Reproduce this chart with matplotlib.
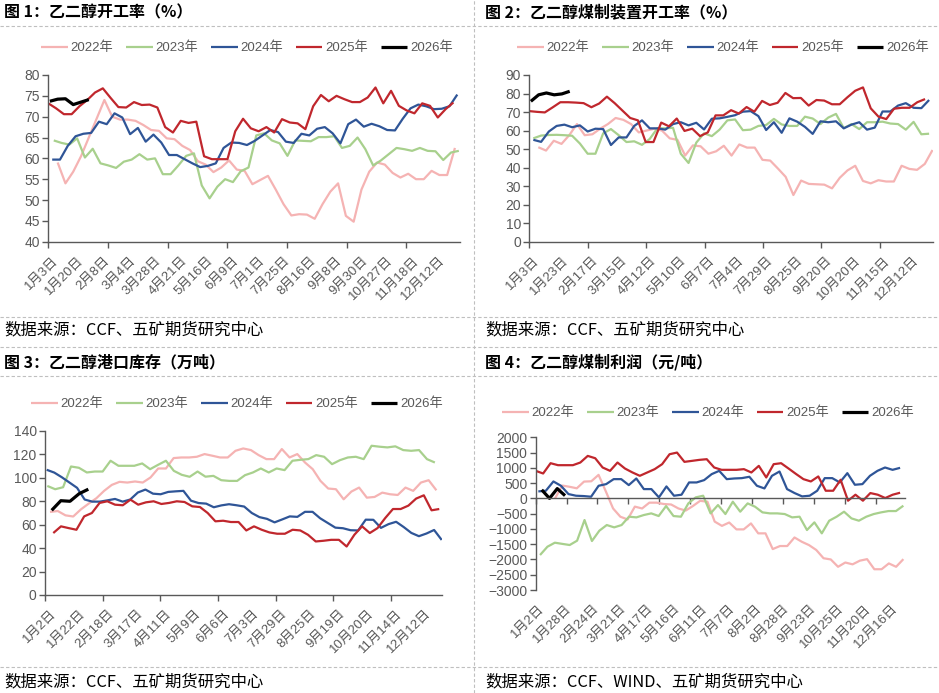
import matplotlib
matplotlib.use('Agg')
import matplotlib.pyplot as plt
from matplotlib.lines import Line2D
import numpy as np

plt.rcParams['font.family'] = ['Liberation Sans', 'Noto Sans CJK SC']

years = ['2022年', '2023年', '2024年', '2025年', '2026年']
colors = ['#F5B3B3', '#A8D08D', '#2F5597', '#C0272D', '#000000']
widths = [1.6, 1.6, 1.6, 1.6, 2.3]

# ---------------- data ----------------
p1_labels = ['1月3日', '1月20日', '2月8日', '3月4日', '3月28日', '4月21日', '5月16日', '6月9日',
             '7月1日', '7月25日', '8月16日', '9月8日', '9月30日', '10月27日', '11月18日', '12月12日']
p1_2022 = [59, 54, 56.8, 60.5, 65, 69.5, 74, 70, 69.3, 69.3, 69, 68, 66.8, 66.6, 64.8, 64.6, 63, 62,
           59.3, 58.5, 56.7, 57.8, 59.5, 57.3, 57, 53.8, 54.8, 55.8, 52.5, 49, 46.3, 46.6, 46.5, 45.5,
           49, 52, 54, 46.2, 44.8, 52.5, 56.8, 59, 58.5, 56.5, 55.4, 56.3, 55, 55, 57, 56, 56, 62.5]
p1_2023 = [64.3, 63.7, 63.3, 64.8, 60.2, 62.3, 58.8, 58.3, 57.7, 59.2, 59.7, 61, 59.7, 60, 56.2, 56.2,
           58.3, 60.6, 61.2, 53.5, 50.4, 53.2, 55, 54.3, 56.9, 57.8, 65.5, 66, 64.3, 63.6, 60.6, 64.3,
           64.2, 64.1, 65.1, 65.1, 65.3, 62.5, 63, 65, 62.2, 58.3, 59.5, 61, 62.5, 62.2, 61.8, 62.5,
           61.8, 61.7, 59.6, 61.4, 61.8]
p1_2024 = [59.7, 59.7, 63, 65.3, 65.9, 66.1, 68.8, 68.2, 70.8, 69.8, 65.8, 67.3, 64, 65.7, 63.8, 60.8,
           60.8, 59.8, 58.8, 57.9, 58.2, 58.8, 62.5, 63.8, 63.7, 63.2, 64.2, 65.5, 66.8, 66.3, 64, 63.7,
           65.9, 65.5, 67.1, 67.5, 66, 63.6, 68.2, 69.3, 67.6, 68.3, 67.7, 66.8, 66.7, 69.5, 72, 72.9,
           72.5, 71.8, 71.9, 72.5, 75.3]
p1_2025 = [73.2, 72, 70.6, 70.6, 72.5, 74, 75.8, 76.8, 74.5, 72.3, 72.2, 73.5, 72.8, 72.9, 72.2, 67.5,
           66.2, 69, 68.5, 68.8, 60.5, 59.8, 59.8, 59.8, 66.5, 69.5, 67.2, 66.5, 67.5, 66.2, 69.4, 68.6,
           68.4, 67, 72.5, 75.2, 73.7, 75, 74.2, 73.5, 73.5, 74.6, 77, 73.2, 76.2, 72.6, 71.5, 70.8,
           73.2, 72.6, 69.8, 71.8, 73.4]
p1_2026 = [73.7, 74.2, 74.3, 72.9, 73.5, 74.1]

p2_labels = ['1月3日', '1月23日', '2月17日', '3月15日', '4月12日', '5月10日', '6月7日', '7月4日',
             '7月29日', '8月25日', '9月20日', '10月20日', '11月15日', '12月12日']
p2_2022 = [51, 49.2, 54.5, 52.8, 57.5, 63.5, 57.5, 58, 61, 63.5, 66.8, 65.8, 63.5, 59, 60, 61, 60,
           55.8, 55, 46.5, 52, 51.5, 47.5, 48.8, 51.8, 46.5, 52.5, 50.8, 50.8, 44.2, 43.8, 39.5, 35,
           25.2, 33, 31.2, 31, 30.8, 28.8, 34.5, 38.5, 41, 32.8, 31.5, 33.2, 32.5, 32.5, 41, 39.3,
           38.8, 42, 49.5]
p2_2023 = [55.8, 57.3, 57.6, 57.7, 57.5, 57.2, 53, 47.5, 47.5, 58.5, 60.8, 57.5, 53.8, 54.2, 52.3,
           55.5, 61.3, 61.2, 61.5, 47.5, 42.5, 53.5, 58.5, 57, 60.5, 65.5, 66, 60.2, 60.5, 62.5, 63,
           66.3, 63.3, 62.5, 62.5, 67.5, 66.5, 63.5, 67, 69, 61.3, 63.5, 60.8, 64.5, 64.5, 64.8, 63.8,
           63.5, 60.5, 64.7, 58, 58.3]
p2_2024 = [55, 53.9, 59.5, 62.5, 63.2, 61.8, 62.8, 59.5, 61, 60.8, 52.2, 56.3, 56.3, 62.5, 65.5, 61.2,
           61.2, 60.5, 63.5, 64.5, 62.8, 64.2, 60.6, 66.4, 66.6, 67.4, 68.3, 70.2, 70.5, 67.8, 60.3,
           64.5, 58.8, 66.6, 64.8, 62, 58.2, 65, 64.5, 65, 61.2, 63.2, 64.5, 60.5, 61.6, 70.3, 70.3,
           73.5, 74.8, 72.3, 72.1, 76.5]
p2_2025 = [70.5, 70.1, 69.8, 72.5, 75.3, 75.3, 75.1, 74.8, 72.6, 74.6, 78.3, 74.8, 70.8, 66.8, 65.5,
           53.8, 53.8, 64.3, 62.3, 66.5, 59.8, 61, 57, 59, 68.2, 68.2, 71, 69.2, 72.7, 70.2, 76, 73.8,
           75, 80.3, 77.5, 77.6, 73.5, 76.5, 76.2, 74.2, 74.2, 78, 81.5, 83.3, 72, 67.5, 66.2, 71.8,
           72.3, 72.3, 75.3, 77]
p2_2026 = [75.8, 79.3, 80.3, 79.3, 79.8, 81.2]

p3_labels = ['1月2日', '1月22日', '2月18日', '3月17日', '4月11日', '5月9日', '6月6日', '7月3日',
             '7月29日', '8月25日', '9月19日', '10月20日', '11月14日', '12月12日']
p3_2022 = [70.9, 71.7, 68, 67, 73.1, 78, 82.6, 88.9, 94, 96.6, 96, 96.9, 96, 100.3, 108, 108, 116.9,
           117.4, 117.4, 118, 120.3, 118.9, 117.4, 117.4, 123.1, 125.1, 123.7, 119.4, 116, 116, 124.6,
           117.4, 120.3, 113.1, 107.4, 97.4, 90.9, 90.3, 81.7, 88.3, 91.7, 83.1, 83.7, 87.4, 86, 85.4,
           91.7, 88.9, 96, 98, 89.4]
p3_2023 = [93.1, 90.3, 92, 109.7, 108.6, 104.6, 105.4, 105.4, 114.6, 110.3, 110.3, 110.3, 112.3, 107.4,
           111.1, 114.6, 106, 102.6, 100.9, 105.4, 101, 101.7, 98, 97.4, 97.4, 102.3, 104.6, 108, 104.6,
           108, 106.6, 114.6, 115.4, 116, 119.4, 118, 111.7, 115.1, 117.4, 118, 116, 127.4, 126.6, 126,
           126.9, 123.7, 123.1, 123.7, 116, 113.1]
p3_2024 = [106.9, 104.5, 100.5, 96, 91.5, 81.5, 79.7, 79.7, 80.8, 82, 79.7, 81.5, 87.5, 90, 86.5, 86,
           88, 88.5, 88.9, 80.5, 78.5, 78, 74.9, 76.5, 77.5, 76.6, 75.5, 70, 66.5, 65, 62, 64.5, 67.1,
           66.7, 71, 71, 65.5, 61.5, 57.5, 57, 55.3, 55.1, 64.3, 64.2, 57.3, 60.5, 62.5, 58, 53, 50.2,
           52.5, 55.5, 47]
p3_2025 = [52.9, 58.6, 57.1, 55.7, 67.1, 70, 78.6, 80, 77.1, 76.6, 81.4, 77.1, 79.1, 80, 77.7, 78.6, 80,
           79.4, 75.7, 75.1, 70, 62.9, 63.4, 62.3, 62.3, 55.1, 58.6, 55.7, 53.4, 52.3, 52.3, 55.7, 55.1,
           51.4, 45.7, 46.3, 47.1, 47.1, 41.4, 51.4, 58.6, 52.9, 57.1, 65.7, 73.4, 73.4, 76.3, 82.3,
           85.1, 72.3, 73.4]
p3_2026 = [72.3, 80.5, 80, 86.5, 90.3]

p4_labels = ['1月2日', '1月28日', '2月24日', '3月21日', '4月17日', '5月16日', '6月11日', '7月7日',
             '8月2日', '8月28日', '9月23日', '10月25日', '11月20日', '12月16日']
p4_2022 = [0, 420, 380, 330, 550, 560, 770, 230, -330, -600, -690, -270, -330, -140, -140, -185, -200,
           -330, -400, -250, -80, -110, -760, -900, -790, -1015, -1015, -820, -1145, -1145, -1660,
           -1560, -1560, -1280, -1420, -1530, -1690, -1960, -2000, -2240, -2100, -2160, -2040, -1990,
           -2320, -2320, -2130, -2240, -1990]
p4_2023 = [-1855, -1582, -1451, -1490, -1527, -1385, -709, -1396, -1058, -873, -949, -873, -600, -622,
           -545, -491, -578, -251, -578, -600, -164, 33, 87, -491, -218, -513, -109, -436, -164, -273,
           -458, -491, -491, -513, -622, -600, -1036, -785, -1145, -731, -600, -436, -655, -731, -600,
           -513, -458, -415, -415, -240]
p4_2024 = [228, 250, 554, 413, 141, 87, 76, 54, 413, 467, 630, 630, 435, 652, 304, 304, 33, 391, 87, 120,
           522, 522, 598, 794, 902, 630, 652, 663, 707, 413, 326, 739, 880, 304, 174, 65, 87, 250, 663,
           663, 522, 826, 446, 467, 739, 902, 1011, 935, 1000]
p4_2025 = [902, 815, 1152, 1087, 1087, 1087, 1174, 1391, 1315, 1011, 902, 1174, 978, 850, 739, 848, 957,
           1120, 1446, 1500, 1196, 1228, 1261, 1283, 1011, 935, 935, 935, 957, 848, 1065, 685, 1120,
           1152, 978, 800, 630, 554, 718, 250, 250, 609, -76, 120, -76, 174, 120, 11, 120, 185]
p4_2026 = [280, 0, 320, 90]

titles = ['图 1：乙二醇开工率（%）', '图 2：乙二醇煤制装置开工率（%）',
          '图 3：乙二醇港口库存（万吨）', '图 4：乙二醇煤制利润（元/吨）']
sources = ['数据来源：CCF、五矿期货研究中心', '数据来源：CCF、五矿期货研究中心',
           '数据来源：CCF、五矿期货研究中心', '数据来源：CCF、WIND、五矿期货研究中心']

# ---------------- layout ----------------
FW, FH = 939, 693
fig = plt.figure(figsize=(FW / 100, FH / 100), dpi=100)
GREY = '#595959'
AX = '#595959'


def fxy(x, y):
    return x / FW, 1 - y / FH


def panel(rect, series, spans, W, ylim, ystep, tick_step, lab0, labstep, labels, legend_c,
          zero_spine=False):
    l, t, r, b = rect
    ax = fig.add_axes([l / FW, 1 - b / FH, (r - l) / FW, (b - t) / FH])
    handles = []
    for vals, (s, e), c, lw, name in zip(series, spans, colors, widths, years):
        x = np.linspace(s, e, len(vals))
        h, = ax.plot(x, vals, color=c, lw=lw, solid_joinstyle='round', solid_capstyle='butt')
        handles.append(h)
    ax.set_xlim(0, W)
    ax.set_ylim(*ylim)
    ax.set_yticks(np.arange(ylim[0], ylim[1] + ystep / 2, ystep))
    for s in ['top', 'right']:
        ax.spines[s].set_visible(False)
    for s in ['left', 'bottom']:
        ax.spines[s].set_color(AX)
        ax.spines[s].set_linewidth(1.0)
    if zero_spine:
        ax.spines['bottom'].set_position(('data', 0))
    ax.set_xticks(np.arange(0, W - 1, tick_step))
    ax.tick_params(axis='x', length=4, width=1, color=AX, labelbottom=False, direction='out')
    ax.tick_params(axis='y', length=4, width=1, color=AX, labelsize=10, labelcolor=GREY, pad=2)
    sec = ax.secondary_xaxis('bottom')
    sec.spines['bottom'].set_visible(False)
    pos = lab0 + labstep * np.arange(len(labels))
    sec.set_xticks(pos, labels, rotation=45, ha='right', va='top', rotation_mode='anchor')
    sec.tick_params(length=0, pad=9, labelsize=9.5, labelcolor=GREY)
    ax.legend(handles, years, loc='center', bbox_to_anchor=fxy(*legend_c),
              bbox_transform=fig.transFigure, ncol=5, frameon=False, handlelength=2.0,
              handletextpad=0.2, columnspacing=1.0, fontsize=9.5, labelcolor=GREY,
              borderaxespad=0)
    return ax


panel((48.3, 75, 460, 241.7), [p1_2022, p1_2023, p1_2024, p1_2025, p1_2026],
      [(1.2, 52.2), (0.7, 52.7), (0.5, 52.5), (0, 52), (0.2, 5.2)],
      52.85, (40, 80), 5, 7.66, 0.44, 3.31, p1_labels, (247, 48))
panel((529.3, 75, 933.3, 241.7), [p2_2022, p2_2023, p2_2024, p2_2025, p2_2026],
      [(1.16, 51.9), (0.52, 51.46), (0.52, 51.46), (0, 50.94), (0.2, 5.2)],
      52.0, (0, 90), 10, 7.52, 0.51, 3.76, p2_labels, (723, 48))
panel((45, 431, 441.7, 595), [p3_2022, p3_2023, p3_2024, p3_2025, p3_2026],
      [(0.66, 51.5), (0.3, 51.3), (0.22, 52.2), (1.09, 51.88), (0.88, 5.7)],
      52.2, (0, 140), 20, 7.59, 0.66, 3.795, p3_labels, (237, 404))
panel((535.7, 437.3, 905, 590), [p4_2022, p4_2023, p4_2024, p4_2025, p4_2026],
      [(2.72, 51.77), (0.61, 51.77), (0.37, 51.31), (0, 51.31), (0.85, 4.13)],
      52.0, (-3000, 2000), 500, 4.35, 0.32, 3.83, p4_labels, (708, 413), zero_spine=True)

# titles and sources
title_pos = [(4, 12), (485, 12), (4, 362), (485, 362)]
source_pos = [(4, 330), (485, 330), (4, 682), (485, 682)]
for txt, (x, y) in zip(titles, title_pos):
    fig.text(*fxy(x, y), txt, fontsize=11.5, fontweight='bold', family=['Noto Sans CJK SC'],
             ha='left', va='center', color='black')
for txt, (x, y) in zip(sources, source_pos):
    fig.text(*fxy(x, y), txt, fontsize=11.8, family=['Noto Sans CJK SC'],
             ha='left', va='center', color='black')

# dashed separators
for y in [26, 317, 347, 376, 667]:
    fig.add_artist(Line2D([0, 1], [1 - y / FH] * 2, transform=fig.transFigure,
                          color='#BFBFBF', lw=0.8, ls=(0, (3, 2))))
fig.add_artist(Line2D([473.5 / FW] * 2, [0, 1], transform=fig.transFigure,
                      color='#BFBFBF', lw=0.8, ls=(0, (3, 2))))

fig.savefig('out.png', dpi=100)
